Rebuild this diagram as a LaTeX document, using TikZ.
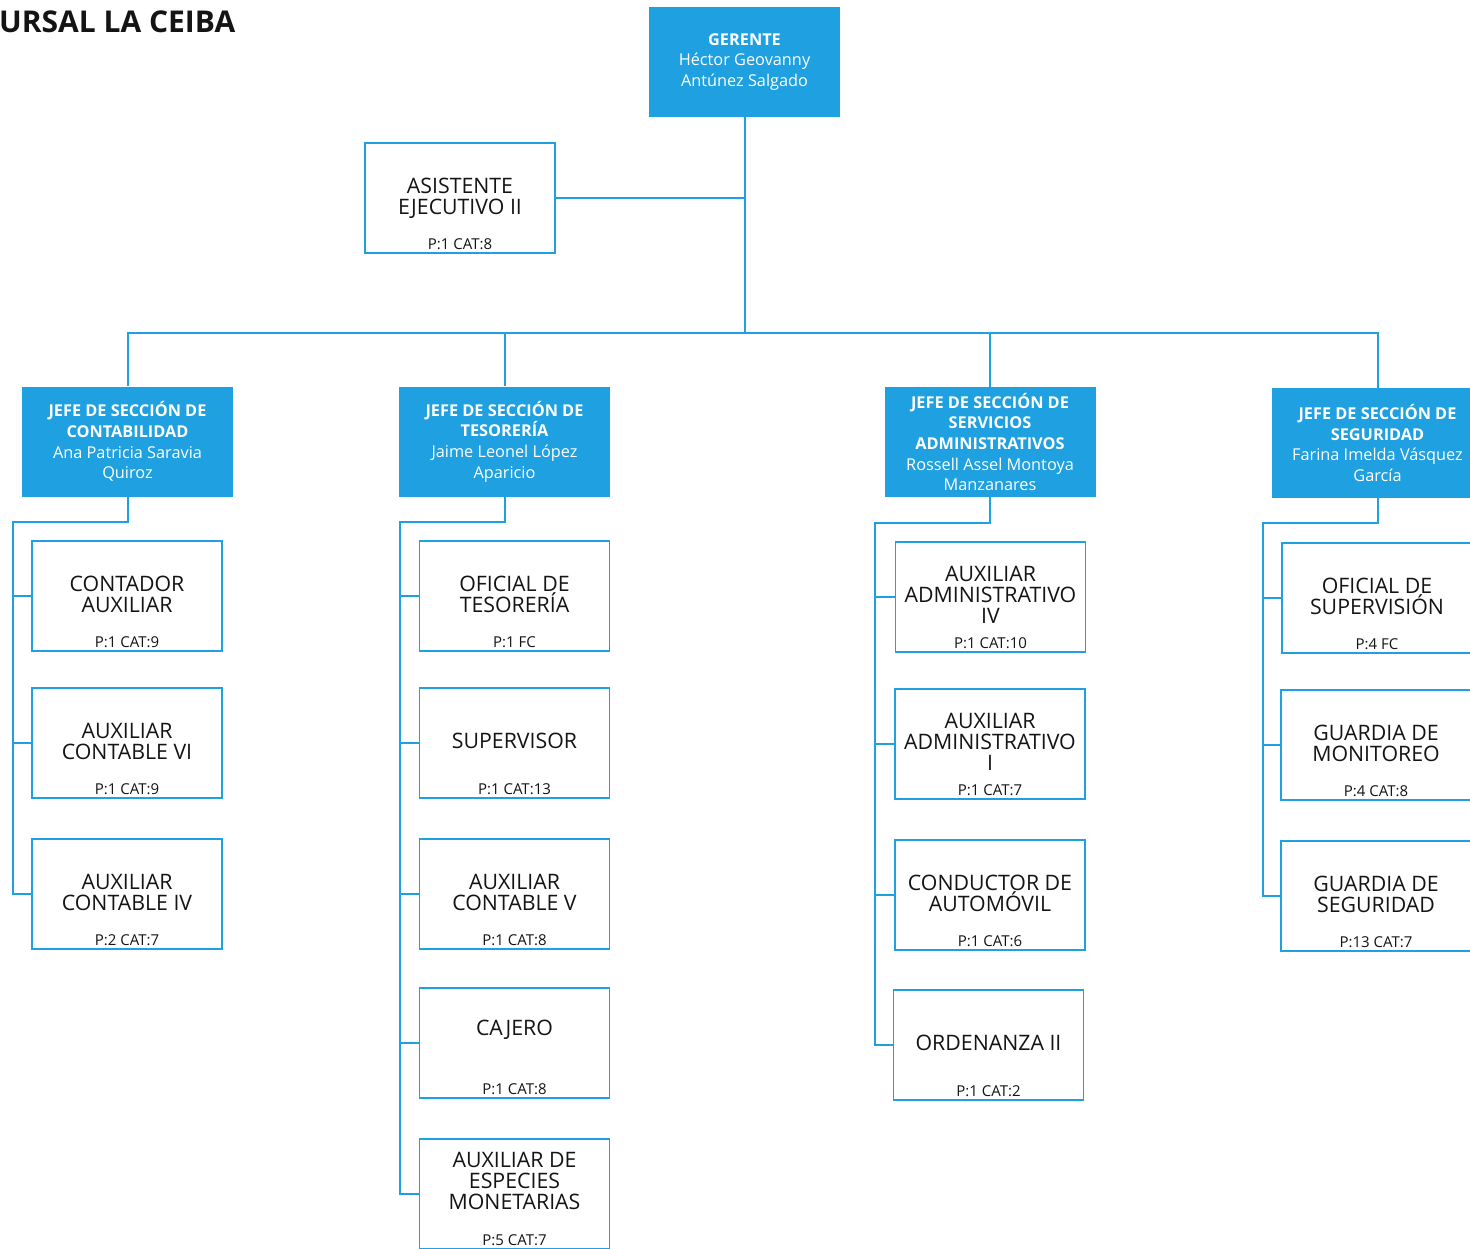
\documentclass[tikz,border=0pt]{standalone}
\usepackage{fontspec}
\setmainfont{Open Sans}

\definecolor{ceiba}{RGB}{30,160,225}
\definecolor{tinta}{RGB}{20,20,20}

\tikzset{
  linea/.style={draw=ceiba, line width=2pt},
  jefe/.style={fill=ceiba, text=white, minimum width=211pt, minimum height=110pt,
    inner sep=0pt, align=center, font=\fontsize{16.3}{20.7}\selectfont},
  puesto/.style={draw=ceiba, line width=1.6pt, fill=white, minimum width=190pt,
    minimum height=110pt, inner sep=0pt},
  titulo/.style={align=center, text=tinta, inner sep=0pt,
    font=\fontsize{21.3}{21}\selectfont},
  pcat/.style={anchor=base, yshift=4pt, text=tinta, inner sep=0pt,
    font=\fontsize{15}{15}\selectfont},
}

% #1 = subida del titulo, #2 = nombre, #3,#4 = centro, #5 = cargo, #6 = plazas
\newcommand{\puesto}[6][2]{%
  \node[puesto, label={[titulo, yshift=#1pt]center:{#5}},
    label={[pcat]south:{#6}}] (#2) at (#3,#4) {};}

\begin{document}
\begin{tikzpicture}[x=1pt, y=-1pt]
\useasboundingbox (0,0) rectangle (1470,1248);
\clip (0,0) rectangle (1470,1248);

\node[anchor=base west, inner sep=0pt, text=tinta,
  font=\fontsize{30}{30}\selectfont\bfseries] (sucursal) at (-1,32) {URSAL LA CEIBA};

% gerencia
\node[jefe, minimum width=191pt] (ger) at (744.5,62) {\textbf{GERENTE}\\Héctor Geovanny\\Antúnez Salgado};
\puesto[0]{asis}{460}{198}{ASISTENTE\\EJECUTIVO II}{P:1 CAT:8}

% jefaturas
\node[jefe] (cont) at (127.5,441.5) {\textbf{JEFE DE SECCIÓN DE}\\\textbf{CONTABILIDAD}\\Ana Patricia Saravia\\Quiroz};
\node[jefe] (teso) at (504.5,441.5) {\textbf{JEFE DE SECCIÓN DE}\\\textbf{TESORERÍA}\\Jaime Leonel López\\Aparicio};
\node[jefe] (serv) at (990,442) {\textbf{JEFE DE SECCIÓN DE}\\\textbf{SERVICIOS}\\\textbf{ADMINISTRATIVOS}\\Rossell Assel Montoya\\Manzanares};
\node[jefe] (segu) at (1377.5,443) {\textbf{JEFE DE SECCIÓN DE}\\\textbf{SEGURIDAD}\\Farina Imelda Vásquez\\García};

% contabilidad
\puesto{cont1}{127}{596}{CONTADOR\\AUXILIAR}{P:1 CAT:9}
\puesto{cont2}{127}{743}{AUXILIAR\\CONTABLE VI}{P:1 CAT:9}
\puesto{cont3}{127}{894}{AUXILIAR\\CONTABLE IV}{P:2 CAT:7}
% tesoreria
\puesto{teso1}{514.5}{596}{OFICIAL DE\\TESORERÍA}{P:1 FC}
\puesto{teso2}{514.5}{743}{SUPERVISOR}{P:1 CAT:13}
\puesto{teso3}{514.5}{894}{AUXILIAR\\CONTABLE V}{P:1 CAT:8}
\puesto[13]{teso4}{514.5}{1043}{CAJERO}{P:1 CAT:8}
\puesto[13]{teso5}{514.5}{1194}{AUXILIAR DE\\ESPECIES\\MONETARIAS}{P:5 CAT:7}
% servicios administrativos
\puesto{serv1}{990.5}{597}{AUXILIAR\\ADMINISTRATIVO\\IV}{P:1 CAT:10}
\puesto{serv2}{990}{744}{AUXILIAR\\ADMINISTRATIVO\\I}{P:1 CAT:7}
\puesto{serv3}{990}{895}{CONDUCTOR DE\\AUTOMÓVIL}{P:1 CAT:6}
\puesto{serv4}{988.5}{1045}{ORDENANZA II}{P:1 CAT:2}
% seguridad
\puesto{segu1}{1377}{598}{OFICIAL DE\\SUPERVISIÓN}{P:4 FC}
\puesto{segu2}{1376}{745}{GUARDIA DE\\MONITOREO}{P:4 CAT:8}
\puesto{segu3}{1376}{896}{GUARDIA DE\\SEGURIDAD}{P:13 CAT:7}

% lineas de mando
\coordinate (bus) at (744.5,333);
\draw[linea] (ger) -- (bus);
\draw[linea] (asis.east) -- (asis.east -| ger.south);
\draw[linea] (cont.north) |- (bus) -| (segu.north);
\draw[linea] (teso.north) -- (teso.north |- bus);
\draw[linea] (serv.north) -- (serv.north |- bus);

\foreach \j/\x/\y/\n in {cont/13/522/3, teso/400/522/5, serv/875/523/4, segu/1263/523/3}{
  \coordinate (\j-l) at (\x,\y);
  \draw[linea] (\j.south) |- (\j-l) |- (\j\n.west);
  \foreach \k in {1,...,\n}
    \draw[linea] (\j-l |- \j\k.west) -- (\j\k.west);
}
\end{tikzpicture}
\end{document}
